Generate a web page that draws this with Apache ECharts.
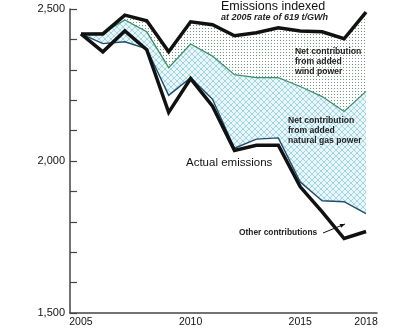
<!DOCTYPE html>
<html>
<head>
<meta charset="utf-8">
<script src="https://cdn.jsdelivr.net/npm/echarts@6/dist/echarts.min.js"></script>
<style>
  html, body { margin: 0; padding: 0; background: #fff; }
  #chart { width: 420px; height: 328px; }
</style>
</head>
<body>
<div id="chart"></div>
<script>
const years = ["2005", "2006", "2007", "2008", "2009", "2010", "2011", "2012", "2013", "2014", "2015", "2016", "2017", "2018"];
const yearLabels = ["2005", "2010", "2015", "2018"];
const yLabels = [1500, 2000, 2500];

// emissions, t
const indexed = [2418, 2418, 2480, 2461, 2359, 2458, 2448, 2412, 2422, 2438, 2428, 2425, 2402, 2490];
const withWind = [2418, 2421, 2464, 2425, 2307, 2385, 2345, 2284, 2274, 2274, 2245, 2212, 2163, 2229];
const withGas = [2418, 2386, 2392, 2369, 2216, 2274, 2203, 2042, 2072, 2076, 1931, 1869, 1866, 1827];
const actual = [2418, 2359, 2428, 2366, 2160, 2271, 2180, 2035, 2052, 2052, 1915, 1833, 1745, 1768];

const font = "'Liberation Sans', Arial, sans-serif";

// fill patterns
const makeDots = () => {
    const c = document.createElement("canvas");
    c.width = 3; c.height = 3;
    const ctx = c.getContext("2d");
    ctx.fillStyle = "#ffffff";
    ctx.fillRect(0, 0, 3, 3);
    ctx.fillStyle = "#6f9680";
    ctx.fillRect(1, 1, 1, 1);
    return c;
};
const makeHatch = () => {
    const c = document.createElement("canvas");
    c.width = 6; c.height = 6;
    const ctx = c.getContext("2d");
    ctx.fillStyle = "#eaf7fa";
    ctx.fillRect(0, 0, 6, 6);
    ctx.strokeStyle = "#9cd0e0";
    ctx.lineWidth = 0.9;
    ctx.beginPath();
    ctx.moveTo(0, 0); ctx.lineTo(6, 6);
    ctx.moveTo(6, 0); ctx.lineTo(0, 6);
    ctx.stroke();
    return c;
};

// each band is painted down to the axis, the next one covers the rest
const band = (name, data, fill, z) => ({
    name: name,
    type: "line",
    data: data,
    symbol: "none",
    lineStyle: { opacity: 0 },
    areaStyle: { color: fill, opacity: 1, origin: "start" },
    z: z,
    silent: true,
});

const line = (name, data, color, width) => ({
    name: name,
    type: "line",
    data: data,
    symbol: "none",
    lineStyle: { color: color, width: width, join: "miter" },
    z: 5,
});

// arrow for "Other contributions"
const arrowFrom = [323, 233];
const arrowTo = [345, 224];
const arrowHead = () => {
    const dx = arrowTo[0] - arrowFrom[0], dy = arrowTo[1] - arrowFrom[1];
    const len = Math.sqrt(dx * dx + dy * dy);
    const ux = dx / len, uy = dy / len;
    const bx = arrowTo[0] - 5 * ux, by = arrowTo[1] - 5 * uy;
    return [arrowTo, [bx - 2 * uy, by + 2 * ux], [bx + 2 * uy, by - 2 * ux]];
};

const textEl = (left, top, text, style) => ({
    type: "text",
    left: left,
    top: top,
    z: 20,
    style: Object.assign({ text: text, fill: "#111", font: "11px " + font }, style),
});

const chart = echarts.init(document.getElementById("chart"));
chart.setOption({
    animation: false,
    grid: { left: 70, right: 43, top: 9, bottom: 13 },
    xAxis: {
        type: "category",
        data: years,
        boundaryGap: true,
        z: 10,
        axisLine: { lineStyle: { color: "#444", width: 1.5 } },
        axisTick: { inside: true, alignWithLabel: true, interval: 0, length: 7, lineStyle: { color: "#444", width: 1.2 } },
        axisLabel: {
            interval: 0,
            margin: 4,
            color: "#111",
            fontFamily: font,
            fontSize: 10.5,
            formatter: (v) => (yearLabels.includes(v) ? v : ""),
        },
        splitLine: { show: false },
    },
    yAxis: {
        type: "value",
        min: 1500,
        max: 2500,
        interval: 100,
        z: 10,
        axisLine: { show: true, lineStyle: { color: "#444", width: 1.5 } },
        axisTick: { show: true, inside: true, length: 7, lineStyle: { color: "#444", width: 1.2 } },
        axisLabel: {
            margin: 5,
            color: "#111",
            fontFamily: font,
            fontSize: 11,
            formatter: (v) => (yLabels.includes(v) ? v.toLocaleString("en-US") : ""),
        },
        splitLine: { show: false },
    },
    series: [
        band("Wind", indexed, { image: makeDots(), repeat: "repeat" }, 1),
        band("Natural gas", withWind, { image: makeHatch(), repeat: "repeat" }, 2),
        band("Other contributions", withGas, "#ffffff", 3),
        line("Wind line", withWind, "#3d8f68", 1.3),
        line("Gas line", withGas, "#1d4d6e", 1.4),
        line("Emissions indexed", indexed, "#111", 3.5),
        line("Actual emissions", actual, "#111", 3.5),
    ],
    graphic: [
        textEl(221, 0, "Emissions indexed", { font: "12.5px " + font }),
        textEl(221, 13, "at 2005 rate of 619 t/GWh", { font: "italic bold 9px " + font, fill: "#222" }),
        textEl(295, 47, "Net contribution\nfrom added\nwind power", { font: "bold 8.6px " + font, lineHeight: 10, fill: "#222" }),
        textEl(288, 116, "Net contribution\nfrom added\nnatural gas power", { font: "bold 8.6px " + font, lineHeight: 10, fill: "#222" }),
        textEl(186, 157, "Actual emissions", { font: "11.5px " + font }),
        textEl(239, 229, "Other contributions", { font: "bold 8.4px " + font, fill: "#222" }),
        {
            type: "line",
            shape: { x1: arrowFrom[0], y1: arrowFrom[1], x2: arrowTo[0], y2: arrowTo[1] },
            style: { stroke: "#111", lineWidth: 1 },
            z: 20,
        },
        {
            type: "polygon",
            shape: { points: arrowHead() },
            style: { fill: "#111" },
            z: 20,
        },
    ],
});
</script>
</body>
</html>
